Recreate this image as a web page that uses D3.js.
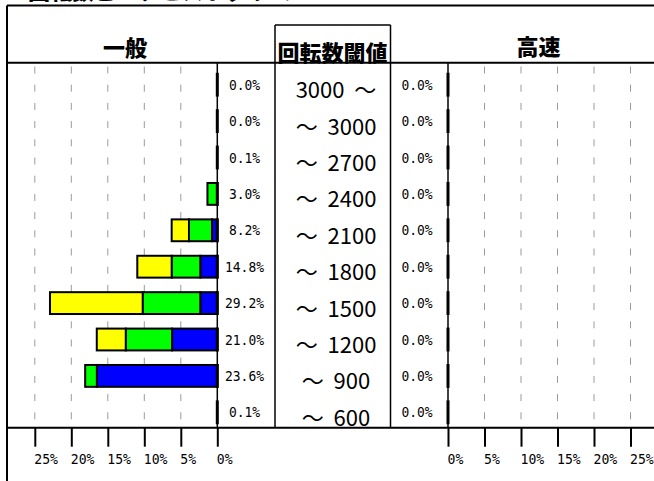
<!DOCTYPE html>
<html lang="ja">
<head>
<meta charset="UTF-8">
<title>回転数閾値</title>
<script src="https://d3js.org/d3.v7.min.js"></script>
<style>
  body { margin: 0; background: #fff; }
  svg { display: block; }
  .jp { font-family: "Noto Sans CJK JP", sans-serif; }
  .mono { font-family: "DejaVu Sans Mono", monospace; font-size: 14.5px; }
  .rpm { white-space: pre; }
</style>
</head>
<body>
<div id="chart"></div>
<script>
// 回転数の区分
const rpmLabels = ["3000  ～", "～  3000", "～  2700", "～  2400", "～  2100", "～  1800", "～  1500", "～  1200", "～  900", "～  600"];
// 表示ラベル
const generalPct = ["0.0%", "0.0%", "0.1%", "3.0%", "8.2%", "14.8%", "29.2%", "21.0%", "23.6%", "0.1%"];
const fastPct = ["0.0%", "0.0%", "0.0%", "0.0%", "0.0%", "0.0%", "0.0%", "0.0%", "0.0%", "0.0%"];
// 棒の長さ（軸の%で読み取り）
const generalBlue = [0, 0, 0, 0, 0.73, 2.33, 2.33, 6.2, 16.5, 0];
const generalGreen = [0, 0, 0, 1.35, 3.15, 3.92, 7.89, 6.34, 1.6, 0];
const generalYellow = [0, 0, 0, 0, 2.37, 4.71, 12.7, 3.97, 0, 0];
const fastBlue = [0, 0, 0, 0, 0, 0, 0, 0, 0, 0];
const fastGreen = [0, 0, 0, 0, 0, 0, 0, 0, 0, 0];
const fastYellow = [0, 0, 0, 0, 0, 0, 0, 0, 0, 0];
const tickValues = [0, 5, 10, 15, 20, 25];
const colors = { blue: "#0000ff", green: "#00ff00", yellow: "#ffff00" };

const width = 654, height = 481;
const plotTop = 62.7, plotBottom = 427.7, plotLeft = 7;

const svg = d3.select("#chart").append("svg")
  .attr("width", width)
  .attr("height", height);

const xL = d3.scaleLinear().domain([0, 25]).range([217.3, 34.8]);
const xR = d3.scaleLinear().domain([0, 25]).range([448, 630.5]);
const y = d3.scaleBand().domain(d3.range(rpmLabels.length))
  .range([66.5, 430.5]).paddingInner(0.4).paddingOuter(0.2);

const stack = d3.stack().keys(["blue", "green", "yellow"]);
const genRows = rpmLabels.map((r, i) => ({ i, blue: generalBlue[i], green: generalGreen[i], yellow: generalYellow[i] }));
const fastRows = rpmLabels.map((r, i) => ({ i, blue: fastBlue[i], green: fastGreen[i], yellow: fastYellow[i] }));

// タイトル（上端で切れている）
svg.append("text").attr("class", "jp")
  .attr("x", 28).attr("y", -1.5)
  .attr("font-size", 22).attr("font-weight", 900)
  .text("回転数ピークヒストグラム");

// グリッド（破線）
const grid = svg.append("g").attr("stroke", "#9a9a9a").attr("stroke-width", 1)
  .attr("stroke-dasharray", "7 11.2");
[xL, xR].forEach(x => {
  grid.selectAll(null).data(tickValues.filter(t => t > 0)).join("line")
    .attr("x1", d => x(d)).attr("x2", d => x(d))
    .attr("y1", 66.5).attr("y2", plotBottom);
});

// 枠線
const frame = svg.append("g").attr("stroke", "#000").attr("stroke-width", 2);
frame.append("line").attr("x1", plotLeft).attr("x2", width).attr("y1", 5.5).attr("y2", 5.5);
frame.append("line").attr("x1", plotLeft).attr("x2", plotLeft).attr("y1", 5.5).attr("y2", height);
frame.append("line").attr("x1", plotLeft).attr("x2", width).attr("y1", plotTop).attr("y2", plotTop);
frame.append("line").attr("x1", plotLeft).attr("x2", width).attr("y1", plotBottom).attr("y2", plotBottom);

const mid = svg.append("g").attr("stroke", "#000").attr("stroke-width", 1.5);
mid.append("line").attr("x1", 275).attr("x2", 275).attr("y1", 25).attr("y2", plotBottom);
mid.append("line").attr("x1", 390.5).attr("x2", 390.5).attr("y1", 25).attr("y2", plotBottom);
mid.append("line").attr("x1", 275).attr("x2", 390.5).attr("y1", 25).attr("y2", 25);
mid.append("line").attr("x1", xL(0)).attr("x2", xL(0)).attr("y1", plotTop).attr("y2", plotBottom);
mid.append("line").attr("x1", xR(0)).attr("x2", xR(0)).attr("y1", plotTop).attr("y2", plotBottom);

// 見出し
svg.append("text").attr("class", "jp")
  .attr("x", 125).attr("y", 45.5).attr("dominant-baseline", "central")
  .attr("text-anchor", "middle").attr("font-size", 22).attr("font-weight", 900)
  .text("一般");
svg.append("text").attr("class", "jp")
  .attr("x", 538.5).attr("y", 44.5).attr("dominant-baseline", "central")
  .attr("text-anchor", "middle").attr("font-size", 22).attr("font-weight", 900)
  .text("高速");
svg.append("text").attr("class", "jp")
  .attr("x", 332.5).attr("y", 50.5).attr("dominant-baseline", "central")
  .attr("text-anchor", "middle").attr("font-size", 22).attr("font-weight", 900)
  .text("回転数閾値");

// 積み上げ棒
function drawBars(rows, x) {
  const g = svg.append("g");
  stack(rows).forEach(layer => {
    g.selectAll(null).data(layer.filter(d => d[1] > d[0])).join("rect")
      .attr("x", d => Math.min(x(d[0]), x(d[1])))
      .attr("width", d => Math.abs(x(d[1]) - x(d[0])))
      .attr("y", d => y(d.data.i))
      .attr("height", y.bandwidth())
      .attr("fill", colors[layer.key])
      .attr("stroke", "#000").attr("stroke-width", 2);
  });
  // 0位置の縁
  g.selectAll(null).data(rows).join("line")
    .attr("x1", x(0)).attr("x2", x(0))
    .attr("y1", d => y(d.i) - 1).attr("y2", d => y(d.i) + y.bandwidth() + 1)
    .attr("stroke", "#000").attr("stroke-width", 3);
}
drawBars(genRows, xL);
drawBars(fastRows, xR);

// 割合ラベル
svg.append("g").attr("class", "mono").selectAll("text").data(generalPct).join("text")
  .attr("x", 244.5).attr("y", (d, i) => y(i) + y.bandwidth() / 2)
  .attr("text-anchor", "middle").attr("dominant-baseline", "central")
  .attr("textLength", d => d.length * 7.8).attr("lengthAdjust", "spacingAndGlyphs")
  .text(d => d);
svg.append("g").attr("class", "mono").selectAll("text").data(fastPct).join("text")
  .attr("x", 417).attr("y", (d, i) => y(i) + y.bandwidth() / 2)
  .attr("text-anchor", "middle").attr("dominant-baseline", "central")
  .attr("textLength", d => d.length * 7.8).attr("lengthAdjust", "spacingAndGlyphs")
  .text(d => d);

// 回転数ラベル
svg.append("g").attr("class", "jp rpm").selectAll("text").data(rpmLabels).join("text")
  .attr("xml:space", "preserve")
  .attr("x", 336).attr("y", (d, i) => y(i) + y.bandwidth() / 2 + 3.5)
  .attr("text-anchor", "middle").attr("dominant-baseline", "central")
  .attr("font-size", 22)
  .text(d => d);

// 下の軸
[xL, xR].forEach(x => {
  const ax = svg.append("g").attr("transform", `translate(0,${plotBottom})`)
    .call(d3.axisBottom(x).tickValues(tickValues).tickSize(19).tickFormat(d => d + "%"));
  ax.select(".domain").remove();
  ax.selectAll(".tick line").attr("stroke", "#000").attr("stroke-width", 2);
  ax.selectAll(".tick text")
    .attr("class", "mono")
    .attr("x", -1).attr("y", 31).attr("dy", "0.35em")
    .attr("text-anchor", "start")
    .attr("textLength", function () { return this.textContent.length * 7.9; })
    .attr("lengthAdjust", "spacingAndGlyphs")
    .attr("fill", "#000");
  ax.attr("font-family", null).attr("font-size", null);
});
</script>
</body>
</html>
